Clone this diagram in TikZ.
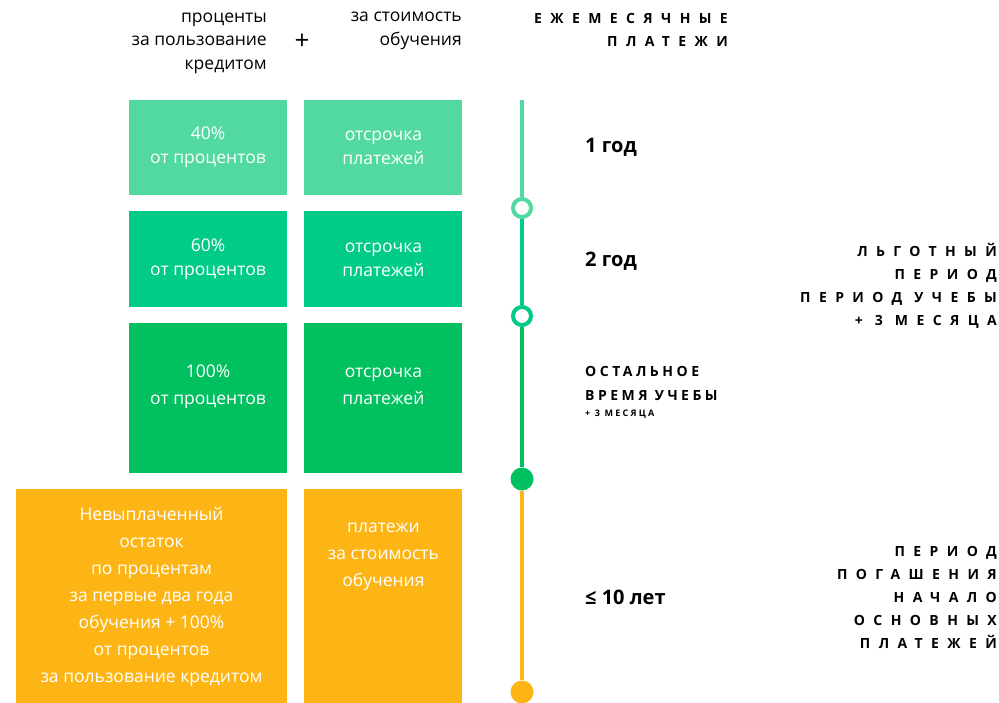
\documentclass[tikz,border=0pt]{standalone}
\usepackage{fontspec}
\setmainfont{Open Sans}
\newfontfamily\spacedfont[LetterSpace=60]{Open Sans}
\newfontfamily\narrowspacedfont[LetterSpace=25]{Open Sans}
\usepackage{tikz}
\usetikzlibrary{positioning}
\definecolor{yearone}{HTML}{52D9A2}
\definecolor{yeartwo}{HTML}{00CC88}
\definecolor{studyrest}{HTML}{00C060}
\definecolor{repay}{HTML}{FDB515}
\tikzset{
    box/.style={
           rectangle,
           fill=#1,
           text=white,
           minimum width=158pt,
           inner sep=0pt,
           text centered,
           align=center,
           font=\fontsize{17.5}{24}\selectfont,
           },
    boxtext/.style={
           text=white,
           inner sep=0pt,
           align=center,
           font=\fontsize{17.5}{27}\selectfont,
           },
    milestone/.style={
           circle,
           draw=#1,
           fill=white,
           line width=4pt,
           minimum size=18pt,
           inner sep=0pt,
           },
    endpoint/.style={
           circle,
           fill=#1,
           minimum size=23pt,
           inner sep=0pt,
           },
    heading/.style={
           align=right,
           anchor=east,
           inner sep=0pt,
           font=\fontsize{17.5}{23.5}\selectfont,
           },
    caption/.style={
           align=right,
           anchor=east,
           inner sep=0pt,
           font=\spacedfont\bfseries\fontsize{14}{23}\selectfont,
           },
    stagecaption/.style={
           align=left,
           anchor=west,
           inner sep=0pt,
           font=\narrowspacedfont\bfseries\fontsize{14}{24}\selectfont,
           },
    stage/.style={
           anchor=west,
           inner sep=0pt,
           font=\bfseries\fontsize{20}{24}\selectfont,
           },
}
\begin{document}
\begin{tikzpicture}
[
x=1pt,y=-1pt
]
 \useasboundingbox (0,0) rectangle (999,703);

 % column headings
 \node[heading] (INTEREST) at (267,43)
 {проценты\\за пользование\\кредитом};
 \node[inner sep=0pt,font=\fontsize{26}{26}\selectfont] (PLUS) at (302,42) {+};
 \node[heading] (TUITION) at (462,31)
 {за стоимость\\обучения};
 \node[caption] (MONTHLY) at (728,30)
 {ЕЖЕМЕСЯЧНЫЕ\\ПЛАТЕЖИ};

 % YEAR 1
 \node[box=yearone,
 minimum height=95pt] (P1) at (208,147.5)
 {40\%\\от процентов};
 \node[box=yearone,
 minimum height=95pt,
 right=17pt of P1] (S1)
 {отсрочка\\платежей};

 % YEAR 2
 \node[box=yeartwo,
 minimum height=96pt,
 below=16pt of P1] (P2)
 {60\%\\от процентов};
 \node[box=yeartwo,
 minimum height=96pt,
 right=17pt of P2] (S2)
 {отсрочка\\платежей};

 % rest of the study time
 \node[box=studyrest,
 minimum height=150pt,
 below=15pt of P2,
 label={[boxtext,yshift=11pt]center:100\%\\от процентов}] (P3) {};
 \node[box=studyrest,
 minimum height=150pt,
 right=17pt of P3,
 label={[boxtext,yshift=11pt]center:отсрочка\\платежей}] (S3) {};

 % repayment
 \node[box=repay,
 minimum width=271pt,
 minimum height=215pt,
 below left=16pt and 0pt of P3.south east,
 label={[boxtext]center:Невыплаченный\\остаток\\по процентам\\за первые два года\\обучения + 100\%\\от процентов\\за пользование кредитом}] (P4) {};
 \node[box=repay,
 minimum height=215pt,
 right=17pt of P4,
 label={[boxtext,anchor=north,yshift=-34pt]north:платежи\\за стоимость\\обучения}] (S4) {};

 % timeline
 \coordinate (START) at (522,100);
 \node[milestone=yearone] (M1) at (522,208) {};
 \node[milestone=yeartwo] (M2) at (522,316) {};
 \node[endpoint=studyrest] (M3) at (522,479) {};
 \node[endpoint=repay] (M4) at (522,692) {};
 \draw[yearone,line width=4pt] (START) -- (M1);
 \draw[yeartwo,line width=4pt] (M1) -- (M2);
 \draw[studyrest,line width=4pt] (M2) -- (M3);
 \draw[repay,line width=4pt] (M3) -- (M4);

 % stage labels
 \node[stage] (Y1) at (585,147) {1 год};
 \node[stage] (Y2) at (585,261) {2 год};
 \node[stagecaption] (REST) at (585,383)
 {ОСТАЛЬНОЕ\\ВРЕМЯ УЧЕБЫ};
 \node[anchor=west,inner sep=0pt,
 font=\narrowspacedfont\bfseries\fontsize{9}{10}\selectfont] (EXTRA) at (585,414)
 {+ 3 МЕСЯЦА};
 \node[stage] (Y10) at (585,597) {≤ 10 лет};

 % periods
 \node[caption] (GRACE) at (997,286)
 {ЛЬГОТНЫЙ\\ПЕРИОД\\ПЕРИОД УЧЕБЫ\\+ 3 МЕСЯЦА};
 \node[caption] (REPAYMENT) at (997,597.5)
 {ПЕРИОД\\ПОГАШЕНИЯ\\НАЧАЛО\\ОСНОВНЫХ\\ПЛАТЕЖЕЙ};

\end{tikzpicture}
\end{document}
